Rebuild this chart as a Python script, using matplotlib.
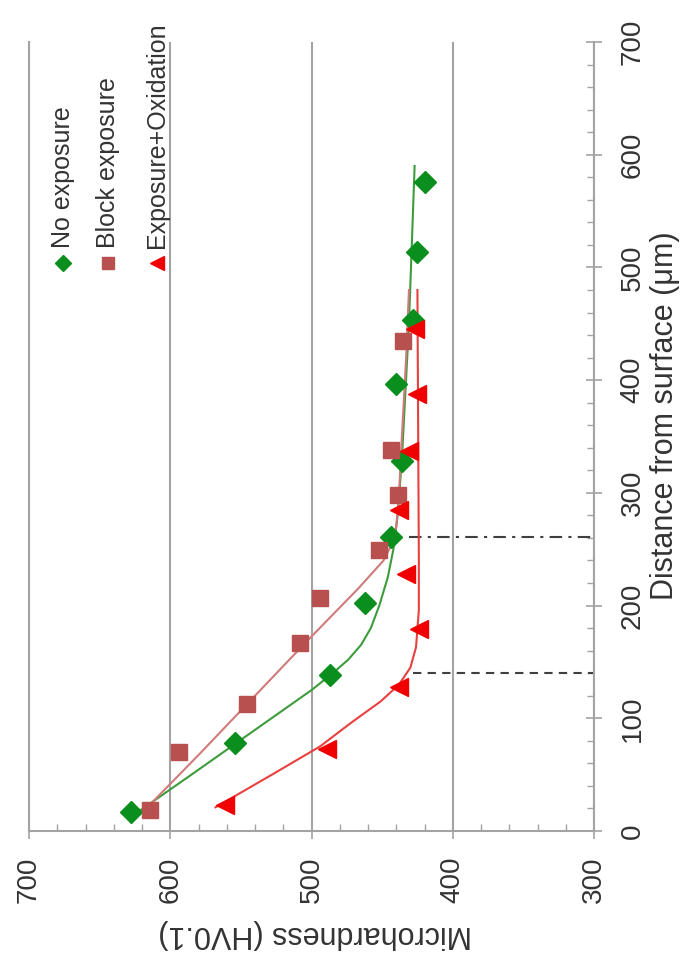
import matplotlib.pyplot as plt
from matplotlib.ticker import MultipleLocator

plt.rcParams['font.family'] = ['Liberation Sans', 'DejaVu Sans']

# measured points: distance from surface (um) and microhardness (HV0.1)
no_exp_d = [17, 78, 138, 202, 261, 328, 397, 453, 514, 576]
no_exp_h = [628, 554, 487, 462, 444, 436, 440, 428, 425, 420]

block_d = [19, 70, 113, 167, 207, 249, 298, 338, 435]
block_h = [614, 594, 546, 508, 494, 452, 439, 444, 435]

oxid_d = [23, 73, 128, 179, 228, 285, 337, 388, 445]
oxid_h = [561, 489, 438, 424, 433, 438, 431, 425, 427]

# fitted trend lines
no_exp_fit_d = [15, 50, 80, 110, 125, 140, 152, 165, 180, 200, 225, 250, 280, 330, 450, 590]
no_exp_fit_h = [625, 585, 551, 517, 500, 485, 474, 465, 458, 452, 446, 442, 439, 436, 431, 427]

block_fit_d = [20, 70, 120, 170, 215, 240, 255, 270, 300, 350, 420, 480]
block_fit_h = [617, 578, 540, 502, 467, 449, 443, 440, 438, 436, 433, 431]

oxid_fit_d = [21, 50, 75, 96, 115, 130, 145, 163, 196, 240, 480]
oxid_fit_h = [568, 528, 494, 472, 451, 438, 430, 426, 424, 424, 425]

# depth of affected layers (dashed / dash-dot markers)
layer_d = [140, 261]
layer_h = [428, 431]

labels = ['No exposure', 'Block exposure', 'Exposure+Oxidation']

green = '#0a8f1e'
green_line = '#3c9c3c'
brown = '#b8504f'
brown_line = '#cf7b7b'
red = '#f00000'
red_line = '#e8403f'
grey = '#a3a3a3'
txt = '#333333'

fig = plt.figure(figsize=(6.95, 9.61), dpi=100)
ax = fig.add_axes([29 / 695, 130 / 961, 565 / 695, 789 / 961])

ax.plot(no_exp_fit_h, no_exp_fit_d, color=green_line, lw=1.5, zorder=3)
ax.plot(block_fit_h, block_fit_d, color=brown_line, lw=1.5, zorder=3)
ax.plot(oxid_fit_h, oxid_fit_d, color=red_line, lw=1.5, zorder=3)

ax.plot([layer_h[0], 300], [layer_d[0], layer_d[0]], color='#404040', lw=1.5,
        ls=(0, (4, 3)), zorder=2)
ax.plot([layer_h[1], 300], [layer_d[1], layer_d[1]], color='#404040', lw=1.5,
        ls=(0, (6, 3, 1.5, 3)), zorder=2)

ax.plot(no_exp_h, no_exp_d, ls='none', marker='D', ms=11, color=green, zorder=4)
ax.plot(block_h, block_d, ls='none', marker='s', ms=11, color=brown, zorder=4)
ax.plot(oxid_h, oxid_d, ls='none', marker='<', ms=13, color=red, zorder=4)

ax.set_xlim(700, 300)
ax.set_ylim(0, 700)

ax.xaxis.set_major_locator(MultipleLocator(100))
ax.xaxis.set_minor_locator(MultipleLocator(20))
ax.yaxis.set_major_locator(MultipleLocator(100))
ax.yaxis.set_minor_locator(MultipleLocator(20))
ax.yaxis.tick_right()

ax.grid(axis='x', which='major', color=grey, lw=1.5, zorder=1)
ax.set_axisbelow(True)

ax.spines['top'].set_visible(False)
for side in ['left', 'bottom', 'right']:
    ax.spines[side].set_color(grey)
    ax.spines[side].set_linewidth(1.5)

ax.tick_params(which='major', direction='inout', length=12, width=1.2, color=grey,
               labelsize=20, labelcolor=txt, pad=12.5)
ax.tick_params(which='minor', direction='in', length=5, width=1.0, color=grey)
ax.tick_params(axis='x', labelrotation=90)
ax.tick_params(axis='y', labelrotation=90, left=False, which='both')
plt.setp(ax.get_yticklabels(), va='center')

ax.set_xlabel('Microhardness (HV0.1)', fontsize=22, color=txt, rotation=180,
              va='center', ha='center')
ax.xaxis.set_label_coords(0.506, -0.13)

ax.yaxis.set_label_position('right')
ax.set_ylabel('Distance from surface (\u03bcm)', fontsize=22, color=txt, rotation=90)
ax.yaxis.label.set_va('center')
ax.yaxis.label.set_ha('center')
ax.yaxis.set_label_coords(1.1257, 0.526)

# legend drawn by hand, rotated like the rest of the chart
leg_x = [0.060, 0.140, 0.227]
leg_styles = [('D', green, 8), ('s', brown, 9), ('<', red, 10)]
for x, lab, (mk, col, ms) in zip(leg_x, labels, leg_styles):
    ax.plot([x], [0.72], marker=mk, ms=ms, color=col, ls='none',
            transform=ax.transAxes, clip_on=False, zorder=5)
    ax.text(x, 0.739, lab, transform=ax.transAxes, rotation=90, ha='center',
            va='bottom', fontsize=18, color=txt)

fig.savefig('out.png', dpi=100)
